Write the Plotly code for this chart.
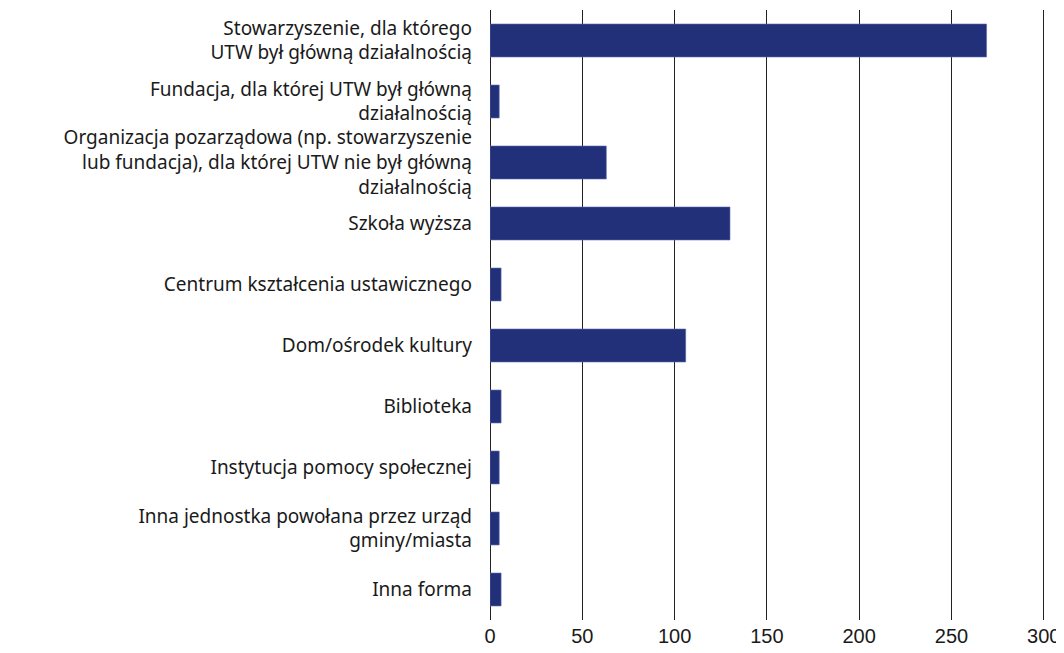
import plotly.graph_objects as go

categories = [
    "Stowarzyszenie, dla którego<br>UTW był główną działalnością",
    "Fundacja, dla której UTW był główną<br>działalnością",
    "Organizacja pozarządowa (np. stowarzyszenie<br>lub fundacja), dla której UTW nie był główną<br>działalnością",
    "Szkoła wyższa",
    "Centrum kształcenia ustawicznego",
    "Dom/ośrodek kultury",
    "Biblioteka",
    "Instytucja pomocy społecznej",
    "Inna jednostka powołana przez urząd<br>gminy/miasta",
    "Inna forma",
]
values = [269, 5, 63, 130, 6, 106, 6, 5, 5, 6]
x_ticks = [0, 50, 100, 150, 200, 250, 300]

fig = go.Figure(go.Bar(
    x=values, y=categories, orientation="h",
    marker=dict(color="#213079", line=dict(color="#5a66a8", width=0.6)),
))

# page body has an 8px margin, so plot margins are shifted by that
fig.update_layout(
    width=1064, height=653,
    paper_bgcolor="white", plot_bgcolor="white",
    font=dict(family="Noto Sans, Open Sans, sans-serif", color="#1a1a1a", size=19),
    margin=dict(l=482, r=19, t=2, b=41),
    bargap=0.46,
    showlegend=False,
    xaxis=dict(range=[0, 305], tickvals=x_ticks, showgrid=True,
               gridcolor="#222222", gridwidth=1, zeroline=True,
               zerolinecolor="#222222", zerolinewidth=1,
               tickfont=dict(size=20, family="Liberation Sans, Noto Sans, sans-serif"),
               ticklabelstandoff=2, showline=False, automargin=False),
    yaxis=dict(autorange="reversed", showgrid=False, ticklabelstandoff=17,
               tickfont=dict(size=19), automargin=False),
)

fig.write_html("out.html")
